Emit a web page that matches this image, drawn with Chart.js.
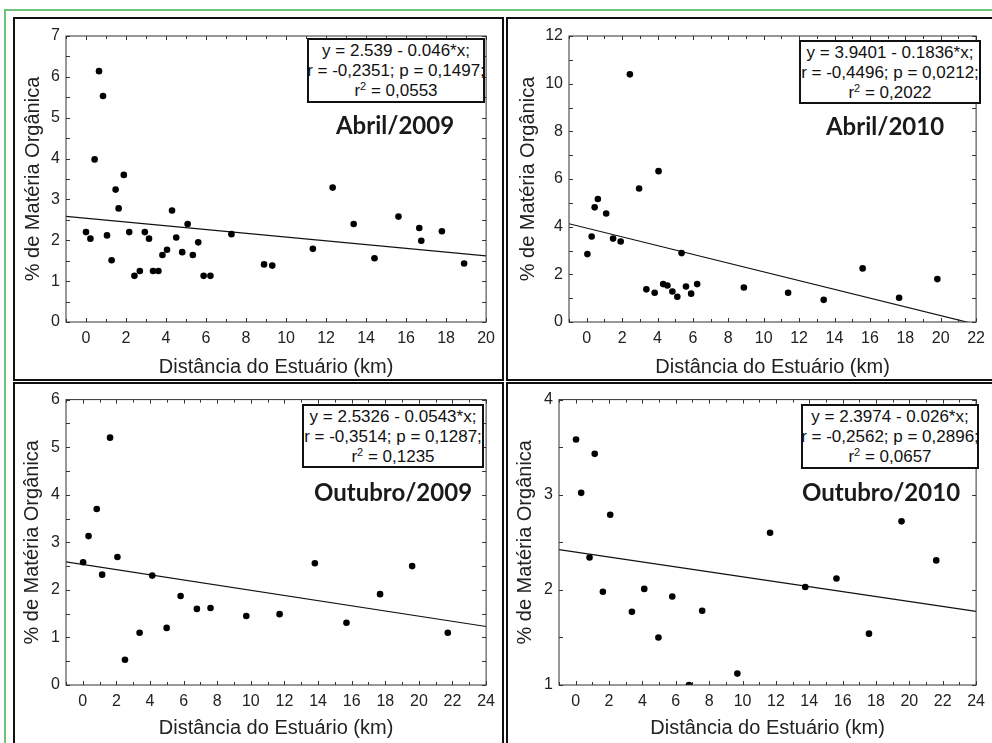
<!DOCTYPE html>
<html lang="pt">
<head>
<meta charset="utf-8">
<title>Matéria Orgânica x Distância do Estuário</title>
<script src="https://cdn.jsdelivr.net/npm/chart.js@4.4.1/dist/chart.umd.min.js"></script>
<style>
  html, body { margin: 0; padding: 0; background: #fff; width: 992px; height: 743px; overflow: hidden; }
  .green { position: absolute; background: #6cc47a; }
  .frame { position: absolute; border: 2px solid #111; box-sizing: border-box; }
  canvas.plot { position: absolute; }
  .eq { position: absolute; border: 2px solid #111; box-sizing: border-box; background: #fff; overflow: hidden;
        font: 17px "Liberation Sans", Arial, sans-serif; color: #111; text-align: center; }
  .eq div { position: absolute; left: -30px; right: -30px; white-space: nowrap; line-height: 20px; }
  .eq sup { font-size: 11px; vertical-align: 6px; line-height: 0; }
  .tag { position: absolute; font: bold 24px Lato, "Open Sans", sans-serif; color: #1a1a1a;
         transform: translate(-50%, -50%); white-space: nowrap; }
</style>
</head>
<body>
  <!-- outer green border -->
  <div class="green" style="left:4px; top:9px; width:988px; height:2px"></div>
  <div class="green" style="left:4px; top:9px; width:2px; height:734px"></div>

  <!-- panel frames -->
  <div class="frame" style="left:13px; top:17px; width:491px; height:364px"></div>
  <div class="frame" style="left:506px; top:17px; width:500px; height:364px"></div>
  <div class="frame" style="left:13px; top:382px; width:491px; height:400px"></div>
  <div class="frame" style="left:506px; top:382px; width:500px; height:400px"></div>

  <canvas id="abr09" class="plot"></canvas>
  <canvas id="abr10" class="plot"></canvas>
  <canvas id="out09" class="plot"></canvas>
  <canvas id="out10" class="plot"></canvas>

  <!-- regression boxes -->
  <div class="eq" style="left:307px; top:38px; width:178px; height:65px">
    <div style="top:1px">y = 2.539 - 0.046*x;</div>
    <div style="top:21px">r = -0,2351; p = 0,1497;</div>
    <div style="top:41px">r<sup>2</sup> = 0,0553</div>
  </div>
  <div class="eq" style="left:799px; top:40px; width:182px; height:64px">
    <div style="top:1px">y = 3.9401 - 0.1836*x;</div>
    <div style="top:21px">r = -0,4496; p = 0,0212;</div>
    <div style="top:41px">r<sup>2</sup> = 0,2022</div>
  </div>
  <div class="eq" style="left:302px; top:404px; width:182px; height:64px">
    <div style="top:1px">y = 2.5326 - 0.0543*x;</div>
    <div style="top:21px">r = -0,3514; p = 0,1287;</div>
    <div style="top:41px">r<sup>2</sup> = 0,1235</div>
  </div>
  <div class="eq" style="left:801px; top:404px; width:178px; height:65px">
    <div style="top:1px">y = 2.3974 - 0.026*x;</div>
    <div style="top:21px">r = -0,2562; p = 0,2896;</div>
    <div style="top:41px">r<sup>2</sup> = 0,0657</div>
  </div>

  <!-- campaign labels -->
  <div class="tag" style="left:395px; top:124px">Abril/2009</div>
  <div class="tag" style="left:885px; top:125px">Abril/2010</div>
  <div class="tag" style="left:393px; top:491px">Outubro/2009</div>
  <div class="tag" style="left:881px; top:491px">Outubro/2010</div>

<script>
// ---- data (distance in km, organic matter in %) ----

// Abril/2009
const distAbr09 = [0, 0.22, 0.43, 0.65, 0.85, 1.05, 1.28, 1.48, 1.63, 1.89, 2.16, 2.42, 2.69, 2.94,
  3.15, 3.35, 3.62, 3.82, 4.05, 4.3, 4.51, 4.81, 5.08, 5.34, 5.61, 5.88, 6.22, 7.27, 8.9, 9.31,
  11.34, 12.33, 13.38, 14.42, 15.62, 16.66, 16.76, 17.79, 18.9];
const moAbr09 = [2.2, 2.04, 3.98, 6.14, 5.53, 2.12, 1.51, 3.24, 2.78, 3.6, 2.2, 1.13, 1.25, 2.2,
  2.04, 1.25, 1.25, 1.64, 1.77, 2.73, 2.07, 1.71, 2.4, 1.64, 1.95, 1.13, 1.13, 2.15, 1.41, 1.38,
  1.79, 3.29, 2.4, 1.56, 2.58, 2.3, 1.99, 2.22, 1.43];

// Abril/2010
const distAbr10 = [0.04, 0.28, 0.45, 0.63, 1.1, 1.49, 1.92, 2.44, 2.96, 3.37, 3.84, 4.06, 4.32,
  4.56, 4.84, 5.12, 5.36, 5.61, 5.9, 6.24, 8.88, 11.38, 13.39, 15.59, 17.65, 19.81];
const moAbr10 = [2.85, 3.59, 4.81, 5.16, 4.55, 3.5, 3.38, 10.39, 5.6, 1.37, 1.23, 6.33, 1.59,
  1.53, 1.28, 1.06, 2.89, 1.49, 1.19, 1.59, 1.45, 1.23, 0.93, 2.25, 1.02, 1.8];

// Outubro/2009
const distOut09 = [0.02, 0.34, 0.83, 1.15, 1.62, 2.06, 2.51, 3.38, 4.13, 4.99, 5.82, 6.79, 7.6,
  9.73, 11.71, 13.81, 15.69, 17.69, 19.6, 21.72];
const moOut09 = [2.58, 3.13, 3.7, 2.32, 5.2, 2.69, 0.53, 1.1, 2.3, 1.2, 1.87, 1.6, 1.62,
  1.45, 1.49, 2.56, 1.31, 1.91, 2.5, 1.1];

// Outubro/2010
const distOut10 = [0.02, 0.33, 0.83, 1.14, 1.63, 2.07, 3.37, 4.11, 4.96, 5.79, 6.79, 7.58, 9.69,
  11.65, 13.76, 15.63, 17.58, 19.53, 21.61];
const moOut10 = [3.58, 3.02, 2.34, 3.43, 1.98, 2.79, 1.77, 2.01, 1.5, 1.93, 1.0, 1.78, 1.12,
  2.6, 2.03, 2.12, 1.54, 2.72, 2.31];

// regression coefficients printed in each panel: y = a + b*x
const intercepts = [2.539, 3.9401, 2.5326, 2.3974];
const slopes = [-0.046, -0.1836, -0.0543, -0.026];

// tick labels
const xTicks20 = [0, 2, 4, 6, 8, 10, 12, 14, 16, 18, 20];
const xTicks22 = [0, 2, 4, 6, 8, 10, 12, 14, 16, 18, 20, 22];
const xTicks24 = [0, 2, 4, 6, 8, 10, 12, 14, 16, 18, 20, 22, 24];
const yTicksAbr09 = [0, 1, 2, 3, 4, 5, 6, 7];
const yTicksAbr10 = [0, 2, 4, 6, 8, 10, 12];
const yTicksOut09 = [0, 1, 2, 3, 4, 5, 6];
const yTicksOut10 = [1, 2, 3, 4];

const xTitle = "Distância do Estuário (km)";
const yTitle = "% de Matéria Orgânica";

// ---- layout: canvas box and wanted chart area, page pixels ----
const panels = [
  { id: "abr09", x: distAbr09, y: moAbr09, xTicks: xTicks20, yTicks: yTicksAbr09, yMinor: 0.5,
    xMin: -1, xMax: 20, canvas: [15, 19, 487, 360], area: [66, 36, 488, 322], yTitleX: 33, xTitleY: 367 },
  { id: "abr10", x: distAbr10, y: moAbr10, xTicks: xTicks22, yTicks: yTicksAbr10, yMinor: 1,
    xMin: -1, xMax: 22, canvas: [508, 19, 484, 360], area: [569, 36, 981, 322], yTitleX: 528, xTitleY: 367 },
  { id: "out09", x: distOut09, y: moOut09, xTicks: xTicks24, yTicks: yTicksOut09, yMinor: 0.5,
    xMin: -1, xMax: 24, canvas: [15, 384, 487, 359], area: [66, 399, 487, 685], yTitleX: 32, xTitleY: 728 },
  { id: "out10", x: distOut10, y: moOut10, xTicks: xTicks24, yTicks: yTicksOut10, yMinor: 0.5,
    xMin: -1, xMax: 24, canvas: [508, 384, 484, 359], area: [559, 399, 981, 685], yTitleX: 525, xTitleY: 728 },
];

Chart.defaults.font.family = "'Liberation Sans', Arial, sans-serif";
Chart.defaults.color = "#222";

// plot frame with small inward ticks on all four sides
const frameTicks = {
  id: "frameTicks",
  afterDatasetsDraw(chart) {
    const { ctx, chartArea: a, scales } = chart;
    const p = chart.options.plugins.frameTicks;
    ctx.save();
    ctx.strokeStyle = "#333";
    ctx.lineWidth = 1;
    ctx.strokeRect(a.left, a.top, a.right - a.left, a.bottom - a.top);
    ctx.beginPath();
    for (let v = Math.ceil(p.xMin); v <= p.xMax; v += 1) {
      const px = Math.round(scales.x.getPixelForValue(v)) + 0.5;
      const len = v % 2 === 0 ? 4 : 3;
      ctx.moveTo(px, a.bottom); ctx.lineTo(px, a.bottom - len);
      ctx.moveTo(px, a.top); ctx.lineTo(px, a.top + len);
    }
    const y0 = p.yTicks[0];
    const y1 = p.yTicks[p.yTicks.length - 1];
    for (let v = y0; v <= y1 + 1e-9; v += p.yMinor) {
      const py = Math.round(scales.y.getPixelForValue(v)) + 0.5;
      ctx.moveTo(a.left, py); ctx.lineTo(a.left + 4, py);
      ctx.moveTo(a.right, py); ctx.lineTo(a.right - 4, py);
    }
    ctx.stroke();
    ctx.restore();
  },
};

function buildChart(p, i) {
  const canvas = document.getElementById(p.id);
  const [cl, ct, cw, ch] = p.canvas;
  const [aL, aT, aR, aB] = p.area;
  canvas.width = cw;
  canvas.height = ch;
  canvas.style.left = cl + "px";
  canvas.style.top = ct + "px";
  canvas.style.width = cw + "px";
  canvas.style.height = ch + "px";

  const a = intercepts[i];
  const b = slopes[i];
  const titleHalf = 12; // 20px font * 1.2 / 2

  new Chart(canvas, {
    type: "scatter",
    data: {
      datasets: [
        {
          data: p.x.map((v, k) => ({ x: v, y: p.y[k] })),
          pointRadius: 3.3,
          pointHoverRadius: 3.3,
          backgroundColor: "#000",
          borderWidth: 0,
          clip: 0,
        },
        {
          data: [
            { x: p.xMin, y: a + b * p.xMin },
            { x: p.xMax, y: a + b * p.xMax },
          ],
          showLine: true,
          borderColor: "#111",
          borderWidth: 1.2,
          pointRadius: 0,
          clip: 0,
        },
      ],
    },
    options: {
      responsive: false,
      animation: false,
      events: [],
      layout: { padding: { left: 0, top: aT - ct, right: cl + cw - aR, bottom: 0 } },
      plugins: {
        legend: { display: false },
        tooltip: { enabled: false },
        frameTicks: { xMin: p.xMin, xMax: p.xMax, yTicks: p.yTicks, yMinor: p.yMinor },
      },
      scales: {
        x: {
          type: "linear",
          min: p.xMin,
          max: p.xMax,
          afterBuildTicks: (s) => { s.ticks = p.xTicks.map((v) => ({ value: v })); },
          afterFit: (s) => { s.height = ct + ch - aB; },
          grid: { display: false, drawTicks: false },
          border: { display: false },
          ticks: { padding: 7, font: { size: 16 }, maxRotation: 0, autoSkip: false },
          title: {
            display: true,
            text: xTitle,
            font: { size: 20 },
            padding: { top: 0, bottom: ct + ch - p.xTitleY - titleHalf },
          },
        },
        y: {
          type: "linear",
          min: p.yTicks[0],
          max: p.yTicks[p.yTicks.length - 1],
          afterBuildTicks: (s) => { s.ticks = p.yTicks.map((v) => ({ value: v })); },
          afterFit: (s) => { s.width = aL - cl; },
          grid: { display: false, drawTicks: false },
          border: { display: false },
          ticks: { padding: 6, font: { size: 16 }, autoSkip: false },
          title: {
            display: true,
            text: yTitle,
            font: { size: 20 },
            padding: { top: p.yTitleX - cl - titleHalf, bottom: 0 },
          },
        },
      },
    },
    plugins: [frameTicks],
  });
}

panels.forEach(buildChart);
</script>
</body>
</html>
